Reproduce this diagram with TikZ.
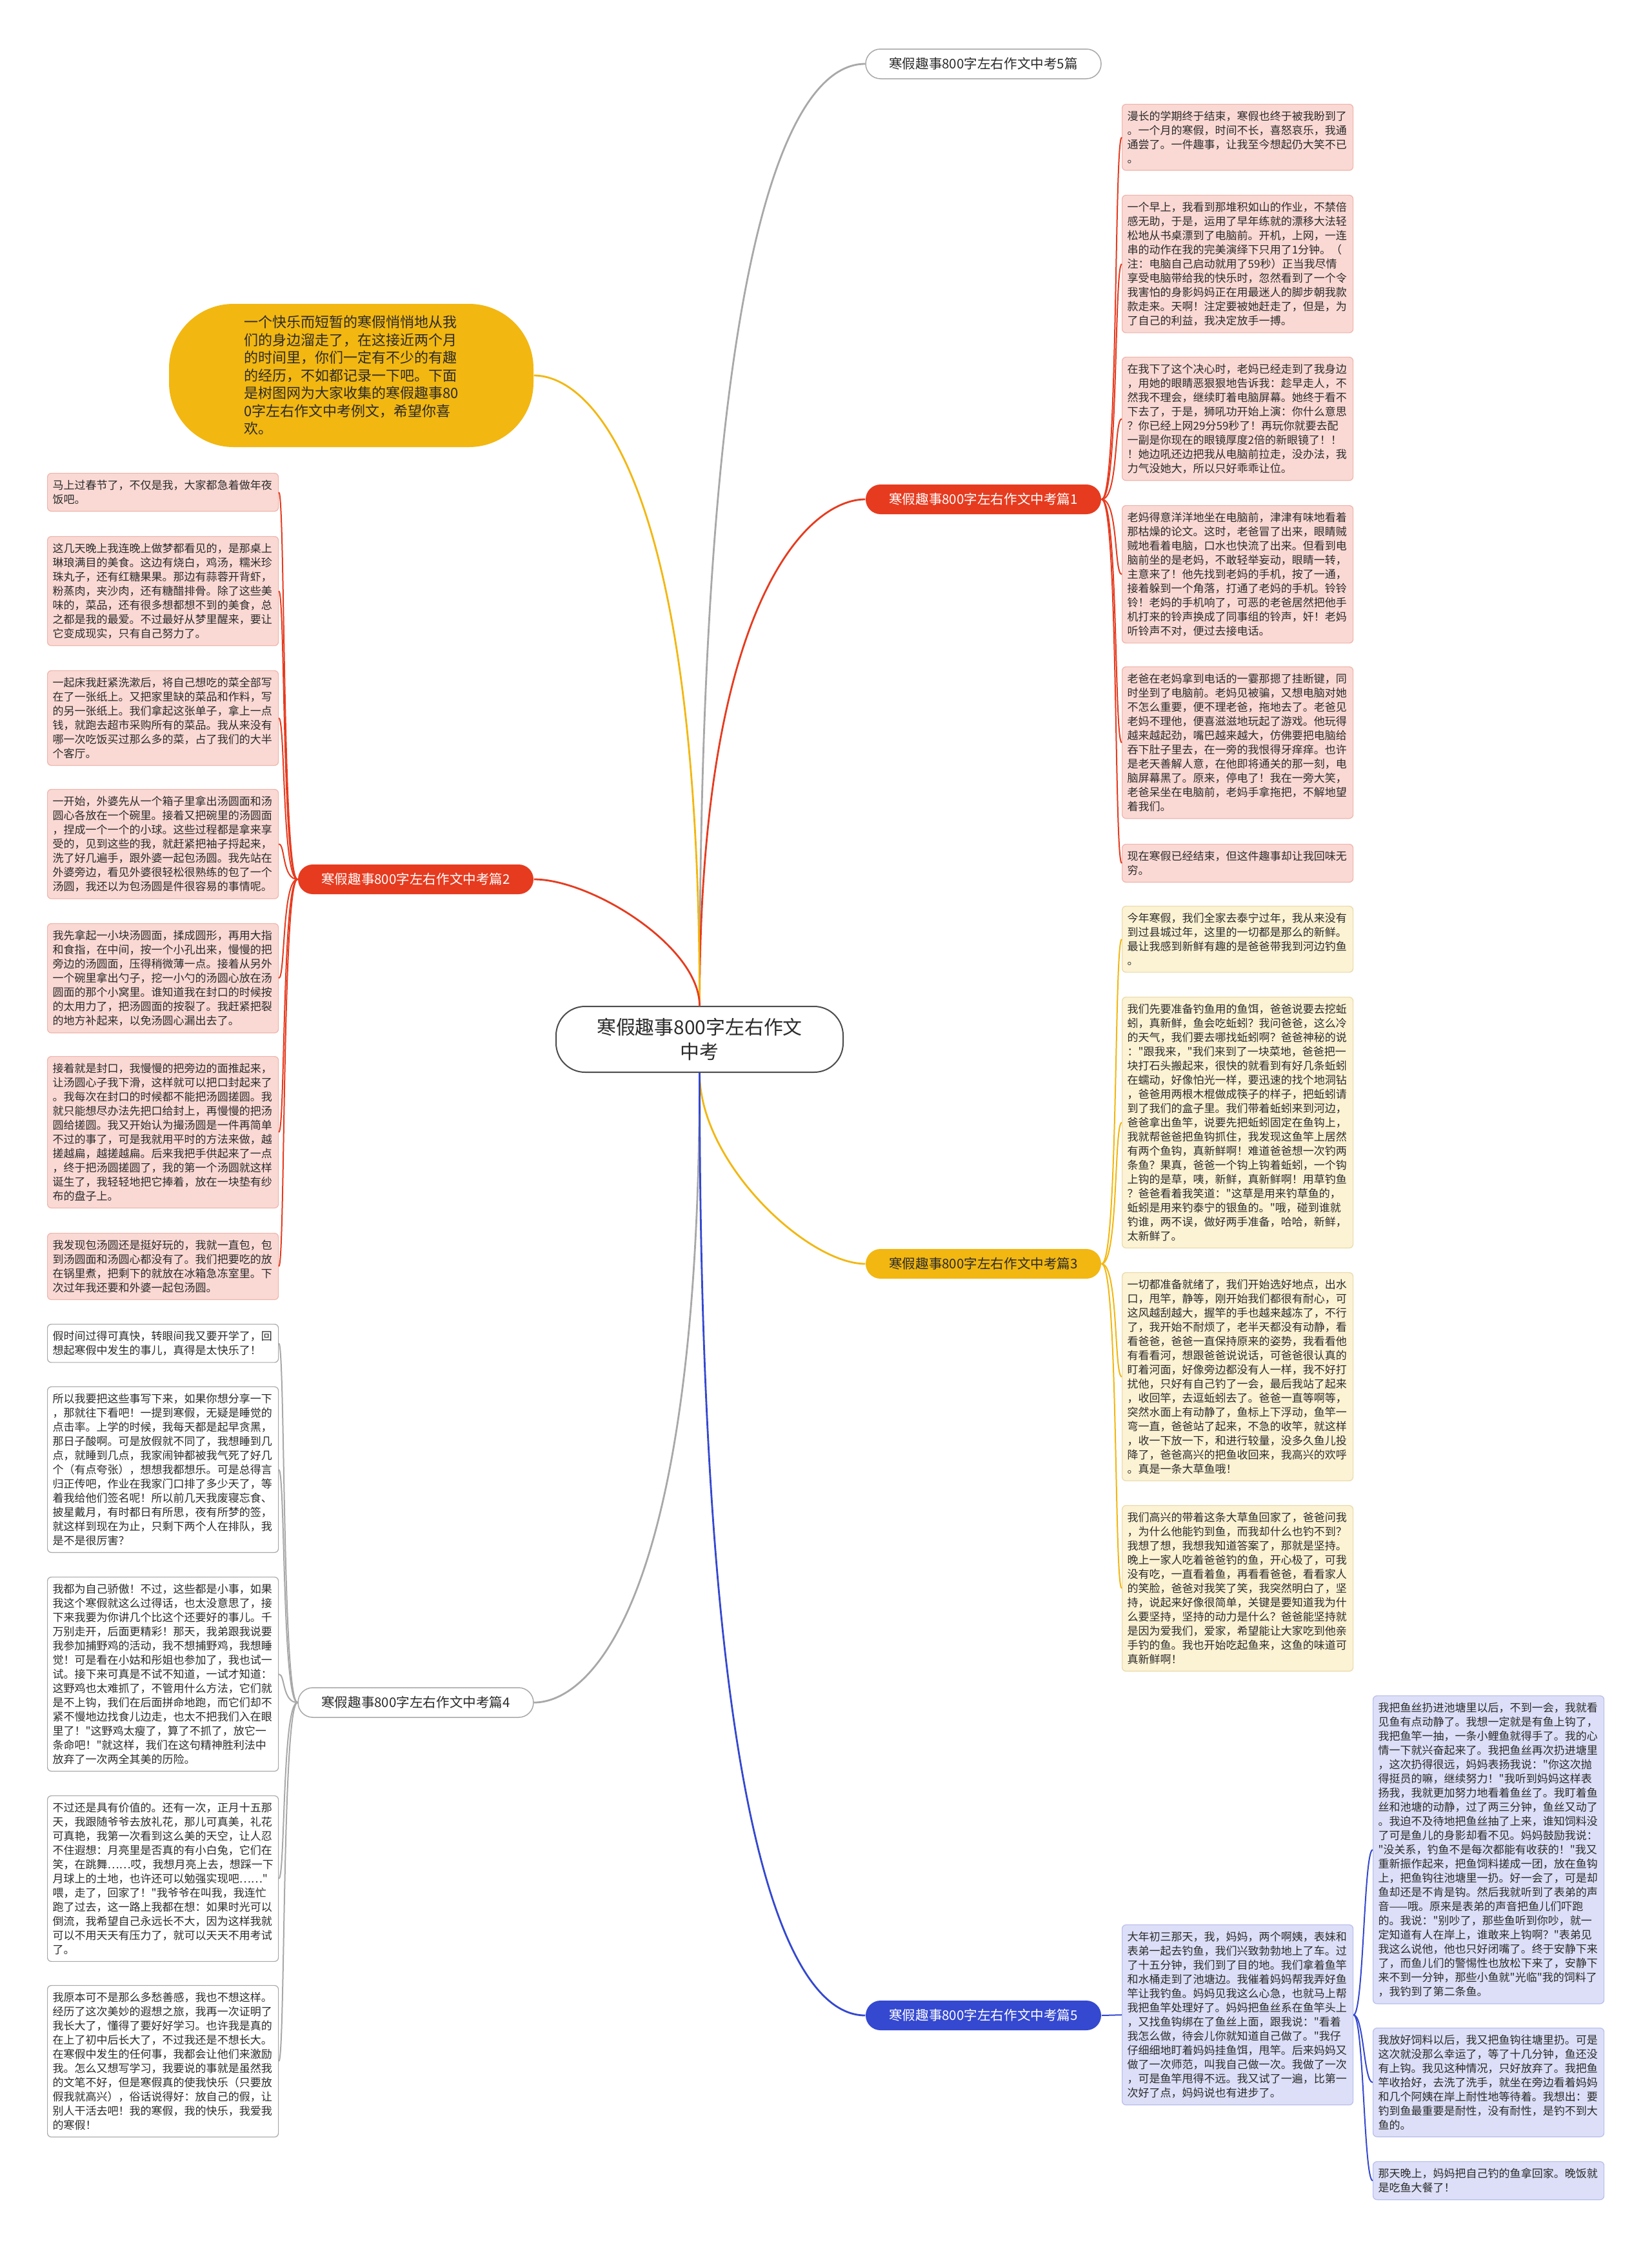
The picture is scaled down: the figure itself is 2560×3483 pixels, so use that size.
\documentclass[tikz,border=0pt]{standalone}
\usepackage{fontspec}
\setmainfont{Noto Sans CJK SC}
\definecolor{rd}{HTML}{E63B1F}
\definecolor{yl}{HTML}{F2B711}
\definecolor{bl}{HTML}{3448D0}
\definecolor{gr}{HTML}{A8A8A8}
\definecolor{pinkf}{HTML}{FAD9D4}
\definecolor{pinkd}{HTML}{F0B4AC}
\definecolor{creamf}{HTML}{FCF2D4}
\definecolor{creamd}{HTML}{EAD9A8}
\definecolor{lavf}{HTML}{DCDFF7}
\definecolor{lavd}{HTML}{B8BDEB}
\definecolor{txt}{HTML}{2B2B2B}
\newcommand\dq{\XeTeXglyph\XeTeXcharglyph"22\relax}
\newcommand\fntbox{\fontsize{4.84pt}{6.26pt}\selectfont}
\newcommand\fnttitle{\fontsize{5.85pt}{7pt}\selectfont}
\newcommand\fntintro{\fontsize{6.26pt}{7.82pt}\selectfont}
\newcommand\fntcenter{\fontsize{8.5pt}{10.8pt}\selectfont}
\tikzset{
  txtbox/.style={rectangle, rounded corners=0.6mm, anchor=north west, text width=34.2mm,
    inner xsep=0.8mm, inner ysep=1.05mm, align=left, font=\fntbox, text=txt, line width=0.12mm},
  rbox/.style={txtbox, fill=pinkf, draw=pinkd},
  ybox/.style={txtbox, fill=creamf, draw=creamd},
  bbox/.style={txtbox, fill=lavf, draw=lavd},
  wbox/.style={txtbox, fill=white, draw=gr},
  ttl/.style={rectangle, rounded corners=2.3mm, minimum width=36.5mm, minimum height=4.6mm,
    inner sep=0pt, font=\fnttitle, line width=0.15mm},
  mainc/.style={line width=0.28mm},
  childc/.style={line width=0.2mm}
}
\begin{document}
\begin{tikzpicture}[x=0.1mm,y=-0.1mm]
\useasboundingbox (0,0) rectangle (2560,3483);
\fill[white] (0,0) rectangle (2560,3483);

% center and intro
\node[rectangle, rounded corners=4.5mm, minimum width=44.5mm, minimum height=10.2mm, inner sep=0pt,
  fill=white, draw=black!70, line width=0.2mm, align=center, font=\fntcenter, text=txt]
  (C) at (1084.5,1611) {寒假趣事800字左右作文\\中考};
\node[rectangle, rounded corners=10mm, minimum width=56.5mm, minimum height=22.2mm, fill=yl,
  text width=33.2mm, align=left, font=\fntintro, text=txt]
  (I) at (544.5,582) {一个快乐而短暂的寒假悄悄地从我\\们的身边溜走了，在这接近两个月\\的时间里，你们一定有不少的有趣\\的经历，不如都记录一下吧。下面\\是树图网为大家收集的寒假趣事80\\0字左右作文中考例文，希望你喜\\欢。};

% titles
\node[ttl, fill=white, draw=gr, text=txt] (T0) at (1524.5,99) {寒假趣事800字左右作文中考5篇};
\node[ttl, fill=rd, text=white] (T1) at (1524.5,774) {寒假趣事800字左右作文中考篇1};
\node[ttl, fill=rd, text=white] (T2) at (644.5,1363) {寒假趣事800字左右作文中考篇2};
\node[ttl, fill=yl, text=txt] (T3) at (1524.5,1959) {寒假趣事800字左右作文中考篇3};
\node[ttl, fill=white, draw=gr, text=txt] (T4) at (644.5,2639) {寒假趣事800字左右作文中考篇4};
\node[ttl, fill=bl, text=white] (T5) at (1524.5,3124) {寒假趣事800字左右作文中考篇5};

% branch 1
\node[rbox] (b1a) at (1739,161) {漫长的学期终于结束，寒假也终于被我盼到了\\。一个月的寒假，时间不长，喜怒哀乐，我通\\通尝了。一件趣事，让我至今想起仍大笑不已\\。};
\node[rbox] (b1b) at (1739,302) {一个早上，我看到那堆积如山的作业，不禁倍\\感无助，于是，运用了早年练就的漂移大法轻\\松地从书桌漂到了电脑前。开机，上网，一连\\串的动作在我的完美演绎下只用了1分钟。（\\注：电脑自己启动就用了59秒）正当我尽情\\享受电脑带给我的快乐时，忽然看到了一个令\\我害怕的身影妈妈正在用最迷人的脚步朝我款\\款走来。天啊！注定要被她赶走了，但是，为\\了自己的利益，我决定放手一搏。};
\node[rbox] (b1c) at (1739,553) {在我下了这个决心时，老妈已经走到了我身边\\，用她的眼睛恶狠狠地告诉我：趁早走人，不\\然我不理会，继续盯着电脑屏幕。她终于看不\\下去了，于是，狮吼功开始上演：你什么意思\\？你已经上网29分59秒了！再玩你就要去配\\一副是你现在的眼镜厚度2倍的新眼镜了！！\\！她边吼还边把我从电脑前拉走，没办法，我\\力气没她大，所以只好乖乖让位。};
\node[rbox] (b1d) at (1739,783) {老妈得意洋洋地坐在电脑前，津津有味地看着\\那枯燥的论文。这时，老爸冒了出来，眼睛贼\\贼地看着电脑，口水也快流了出来。但看到电\\脑前坐的是老妈，不敢轻举妄动，眼睛一转，\\主意来了！他先找到老妈的手机，按了一通，\\接着躲到一个角落，打通了老妈的手机。铃铃\\铃！老妈的手机响了，可恶的老爸居然把他手\\机打来的铃声换成了同事组的铃声，奸！老妈\\听铃声不对，便过去接电话。};
\node[rbox] (b1e) at (1739,1033) {老爸在老妈拿到电话的一霎那摁了挂断键，同\\时坐到了电脑前。老妈见被骗，又想电脑对她\\不怎么重要，便不理老爸，拖地去了。老爸见\\老妈不理他，便喜滋滋地玩起了游戏。他玩得\\越来越起劲，嘴巴越来越大，仿佛要把电脑给\\吞下肚子里去，在一旁的我恨得牙痒痒。也许\\是老天善解人意，在他即将通关的那一刻，电\\脑屏幕黑了。原来，停电了！我在一旁大笑，\\老爸呆坐在电脑前，老妈手拿拖把，不解地望\\着我们。};
\node[rbox] (b1f) at (1739,1308) {现在寒假已经结束，但这件趣事却让我回味无\\穷。};

% branch 3
\node[ybox] (b3a) at (1739,1404) {今年寒假，我们全家去泰宁过年，我从来没有\\到过县城过年，这里的一切都是那么的新鲜。\\最让我感到新鲜有趣的是爸爸带我到河边钓鱼\\。};
\node[ybox] (b3b) at (1739,1545) {我们先要准备钓鱼用的鱼饵，爸爸说要去挖蚯\\蚓，真新鲜，鱼会吃蚯蚓？我问爸爸，这么冷\\的天气，我们要去哪找蚯蚓啊？爸爸神秘的说\\：\dq 跟我来，\dq 我们来到了一块菜地，爸爸把一\\块打石头搬起来，很快的就看到有好几条蚯蚓\\在蠕动，好像怕光一样，要迅速的找个地洞钻\\，爸爸用两根木棍做成筷子的样子，把蚯蚓请\\到了我们的盒子里。我们带着蚯蚓来到河边，\\爸爸拿出鱼竿，说要先把蚯蚓固定在鱼钩上，\\我就帮爸爸把鱼钩抓住，我发现这鱼竿上居然\\有两个鱼钩，真新鲜啊！难道爸爸想一次钓两\\条鱼？果真，爸爸一个钩上钩着蚯蚓，一个钩\\上钩的是草，咦，新鲜，真新鲜啊！用草钓鱼\\？爸爸看着我笑道：\dq 这草是用来钓草鱼的，\\蚯蚓是用来钓泰宁的银鱼的。\dq 哦，碰到谁就\\钓谁，两不误，做好两手准备，哈哈，新鲜，\\太新鲜了。};
\node[ybox] (b3c) at (1739,1972) {一切都准备就绪了，我们开始选好地点，出水\\口，甩竿，静等，刚开始我们都很有耐心，可\\这风越刮越大，握竿的手也越来越冻了，不行\\了，我开始不耐烦了，老半天都没有动静，看\\看爸爸，爸爸一直保持原来的姿势，我看看他\\有看看河，想跟爸爸说说话，可爸爸很认真的\\盯着河面，好像旁边都没有人一样，我不好打\\扰他，只好有自己钓了一会，最后我站了起来\\，收回竿，去逗蚯蚓去了。爸爸一直等啊等，\\突然水面上有动静了，鱼标上下浮动，鱼竿一\\弯一直，爸爸站了起来，不急的收竿，就这样\\，收一下放一下，和进行较量，没多久鱼儿投\\降了，爸爸高兴的把鱼收回来，我高兴的欢呼\\。真是一条大草鱼哦！};
\node[ybox] (b3d) at (1739,2333) {我们高兴的带着这条大草鱼回家了，爸爸问我\\，为什么他能钓到鱼，而我却什么也钓不到？\\我想了想，我想我知道答案了，那就是坚持。\\晚上一家人吃着爸爸钓的鱼，开心极了，可我\\没有吃，一直看着鱼，再看看爸爸，看看家人\\的笑脸，爸爸对我笑了笑，我突然明白了，坚\\持，说起来好像很简单，关键是要知道我为什\\么要坚持，坚持的动力是什么？爸爸能坚持就\\是因为爱我们，爱家，希望能让大家吃到他亲\\手钓的鱼。我也开始吃起鱼来，这鱼的味道可\\真新鲜啊！};

% branch 5
\node[bbox] (b5a) at (1739,2983) {大年初三那天，我，妈妈，两个啊姨，表妹和\\表弟一起去钓鱼，我们兴致勃勃地上了车。过\\了十五分钟，我们到了目的地。我们拿着鱼竿\\和水桶走到了池塘边。我催着妈妈帮我弄好鱼\\竿让我钓鱼。妈妈见我这么心急，也就马上帮\\我把鱼竿处理好了。妈妈把鱼丝系在鱼竿头上\\，又找鱼钩绑在了鱼丝上面，跟我说：\dq 看着\\我怎么做，待会儿你就知道自己做了。\dq 我仔\\仔细细地盯着妈妈挂鱼饵，甩竿。后来妈妈又\\做了一次师范，叫我自己做一次。我做了一次\\，可是鱼竿甩得不远。我又试了一遍，比第一\\次好了点，妈妈说也有进步了。};
\node[bbox] (b5b) at (2128,2628) {我把鱼丝扔进池塘里以后，不到一会，我就看\\见鱼有点动静了。我想一定就是有鱼上钩了，\\我把鱼竿一抽，一条小鲤鱼就得手了。我的心\\情一下就兴奋起来了。我把鱼丝再次扔进塘里\\，这次扔得很远，妈妈表扬我说：\dq 你这次抛\\得挺员的嘛，继续努力！\dq 我听到妈妈这样表\\扬我，我就更加努力地看着鱼丝了。我盯着鱼\\丝和池塘的动静，过了两三分钟，鱼丝又动了\\。我迫不及待地把鱼丝抽了上来，谁知饲料没\\了可是鱼儿的身影却看不见。妈妈鼓励我说：\\\dq 没关系，钓鱼不是每次都能有收获的！\dq 我又\\重新振作起来，把鱼饲料搓成一团，放在鱼钩\\上，把鱼钩往池塘里一扔。好一会了，可是却\\鱼却还是不肯是钩。然后我就听到了表弟的声\\音——哦。原来是表弟的声音把鱼儿们吓跑\\的。我说：\dq 别吵了，那些鱼听到你吵，就一\\定知道有人在岸上，谁敢来上钩啊？\dq 表弟见\\我这么说他，他也只好闭嘴了。终于安静下来\\了，而鱼儿们的警惕性也放松下来了，安静下\\来不到一分钟，那些小鱼就\dq 光临\dq 我的饲料了\\，我钓到了第二条鱼。};
\node[bbox] (b5c) at (2128,3143) {我放好饲料以后，我又把鱼钩往塘里扔。可是\\这次就没那么幸运了，等了十几分钟，鱼还没\\有上钩。我见这种情况，只好放弃了。我把鱼\\竿收拾好，去洗了洗手，就坐在旁边看着妈妈\\和几个阿姨在岸上耐性地等待着。我想出：要\\钓到鱼最重要是耐性，没有耐性，是钓不到大\\鱼的。};
\node[bbox] (b5d) at (2128,3350) {那天晚上，妈妈把自己钓的鱼拿回家。晚饭就\\是吃鱼大餐了！};

% branch 2
\node[rbox] (b2a) at (73,733) {马上过春节了，不仅是我，大家都急着做年夜\\饭吧。};
\node[rbox] (b2b) at (73,831) {这几天晚上我连晚上做梦都看见的，是那桌上\\琳琅满目的美食。这边有烧白，鸡汤，糯米珍\\珠丸子，还有红糖果果。那边有蒜蓉开背虾，\\粉蒸肉，夹沙肉，还有糖醋排骨。除了这些美\\味的，菜品，还有很多想都想不到的美食，总\\之都是我的最爱。不过最好从梦里醒来，要让\\它变成现实，只有自己努力了。};
\node[rbox] (b2c) at (73,1039) {一起床我赶紧洗漱后，将自己想吃的菜全部写\\在了一张纸上。又把家里缺的菜品和作料，写\\的另一张纸上。我们拿起这张单子，拿上一点\\钱，就跑去超市采购所有的菜品。我从来没有\\哪一次吃饭买过那么多的菜，占了我们的大半\\个客厅。};
\node[rbox] (b2d) at (73,1223) {一开始，外婆先从一个箱子里拿出汤圆面和汤\\圆心各放在一个碗里。接着又把碗里的汤圆面\\，捏成一个一个的小球。这些过程都是拿来享\\受的，见到这些的我，就赶紧把袖子捋起来，\\洗了好几遍手，跟外婆一起包汤圆。我先站在\\外婆旁边，看见外婆很轻松很熟练的包了一个\\汤圆，我还以为包汤圆是件很容易的事情呢。};
\node[rbox] (b2e) at (73,1431) {我先拿起一小块汤圆面，揉成圆形，再用大指\\和食指，在中间，按一个小孔出来，慢慢的把\\旁边的汤圆面，压得稍微薄一点。接着从另外\\一个碗里拿出勺子，挖一小勺的汤圆心放在汤\\圆面的那个小窝里。谁知道我在封口的时候按\\的太用力了，把汤圆面的按裂了。我赶紧把裂\\的地方补起来，以免汤圆心漏出去了。};
\node[rbox] (b2f) at (73,1637) {接着就是封口，我慢慢的把旁边的面推起来，\\让汤圆心子我下滑，这样就可以把口封起来了\\。我每次在封口的时候都不能把汤圆搓圆。我\\就只能想尽办法先把口给封上，再慢慢的把汤\\圆给搓圆。我又开始认为撮汤圆是一件再简单\\不过的事了，可是我就用平时的方法来做，越\\搓越扁，越搓越扁。后来我把手供起来了一点\\，终于把汤圆搓圆了，我的第一个汤圆就这样\\诞生了，我轻轻地把它捧着，放在一块垫有纱\\布的盘子上。};
\node[rbox] (b2g) at (73,1911) {我发现包汤圆还是挺好玩的，我就一直包，包\\到汤圆面和汤圆心都没有了。我们把要吃的放\\在锅里煮，把剩下的就放在冰箱急冻室里。下\\次过年我还要和外婆一起包汤圆。};

% branch 4
\node[wbox] (b4a) at (73,2052) {假时间过得可真快，转眼间我又要开学了，回\\想起寒假中发生的事儿，真得是太快乐了！};
\node[wbox] (b4b) at (73,2149) {所以我要把这些事写下来，如果你想分享一下\\，那就往下看吧！一提到寒假，无疑是睡觉的\\点击率。上学的时候，我每天都是起早贪黑，\\那日子酸啊。可是放假就不同了，我想睡到几\\点，就睡到几点，我家闹钟都被我气死了好几\\个（有点夸张），想想我都想乐。可是总得言\\归正传吧，作业在我家门口排了多少天了，等\\着我给他们签名呢！所以前几天我废寝忘食、\\披星戴月，有时都日有所思，夜有所梦的签，\\就这样到现在为止，只剩下两个人在排队，我\\是不是很厉害？};
\node[wbox] (b4c) at (73,2444) {我都为自己骄傲！不过，这些都是小事，如果\\我这个寒假就这么过得话，也太没意思了，接\\下来我要为你讲几个比这个还要好的事儿。千\\万别走开，后面更精彩！那天，我弟跟我说要\\我参加捕野鸡的活动，我不想捕野鸡，我想睡\\觉！可是看在小姑和彤姐也参加了，我也试一\\试。接下来可真是不试不知道，一试才知道：\\这野鸡也太难抓了，不管用什么方法，它们就\\是不上钩，我们在后面拼命地跑，而它们却不\\紧不慢地边找食儿边走，也太不把我们入在眼\\里了！\dq 这野鸡太瘦了，算了不抓了，放它一\\条命吧！\dq 就这样，我们在这句精神胜利法中\\放弃了一次两全其美的历险。};
\node[wbox] (b4d) at (73,2783) {不过还是具有价值的。还有一次，正月十五那\\天，我跟随爷爷去放礼花，那儿可真美，礼花\\可真艳，我第一次看到这么美的天空，让人忍\\不住遐想：月亮里是否真的有小白兔，它们在\\笑，在跳舞……哎，我想月亮上去，想踩一下\\月球上的土地，也许还可以勉强实现吧……\dq\\喂，走了，回家了！\dq 我爷爷在叫我，我连忙\\跑了过去，这一路上我都在想：如果时光可以\\倒流，我希望自己永远长不大，因为这样我就\\可以不用天天有压力了，就可以天天不用考试\\了。};
\node[wbox] (b4e) at (73,3077) {我原本可不是那么多愁善感，我也不想这样。\\经历了这次美妙的遐想之旅，我再一次证明了\\我长大了，懂得了要好好学习。也许我是真的\\在上了初中后长大了，不过我还是不想长大。\\在寒假中发生的任何事，我都会让他们来激励\\我。怎么又想写学习，我要说的事就是虽然我\\的文笔不好，但是寒假真的使我快乐（只要放\\假我就高兴），俗话说得好：放自己的假，让\\别人干活去吧！我的寒假，我的快乐，我爱我\\的寒假！};

% main connectors
\draw[mainc, gr] (C.north) .. controls (1084.5,259) and (1252,99) .. (T0.west);
\draw[mainc, rd] (C.north) .. controls (1084.5,934) and (1252,774) .. (T1.west);
\draw[mainc, yl] (C.north) .. controls (1084.5,742) and (917,582) .. (I.east);
\draw[mainc, rd] (C.north) .. controls (1084.5,1467) and (917,1363) .. (T2.east);
\draw[mainc, yl] (C.south) .. controls (1084.5,1803) and (1252,1959) .. (T3.west);
\draw[mainc, gr] (C.south) .. controls (1084.5,2479) and (917,2639) .. (T4.east);
\draw[mainc, bl] (C.south) .. controls (1084.5,2964) and (1252,3124) .. (T5.west);

% child connectors
\foreach \b in {b1a,b1b,b1c,b1d,b1e,b1f}
  \draw[childc, rd] (T1.east) .. controls +(26,0) and +(-12,0) .. (\b.west);
\foreach \b in {b3a,b3b,b3c,b3d}
  \draw[childc, yl] (T3.east) .. controls +(26,0) and +(-12,0) .. (\b.west);
\draw[childc, bl] (T5.east) .. controls +(16,0) and +(-16,0) .. (b5a.west);
\foreach \b in {b5b,b5c,b5d}
  \draw[childc, bl] (b5a.east) .. controls +(16,0) and +(-14,0) .. (\b.west);
\foreach \b in {b2a,b2b,b2c,b2d,b2e,b2f,b2g}
  \draw[childc, rd] (T2.west) .. controls +(-24,0) and +(10,0) .. (\b.east);
\foreach \b in {b4a,b4b,b4c,b4d,b4e}
  \draw[childc, gr] (T4.west) .. controls +(-24,0) and +(10,0) .. (\b.east);
\end{tikzpicture}
\end{document}
